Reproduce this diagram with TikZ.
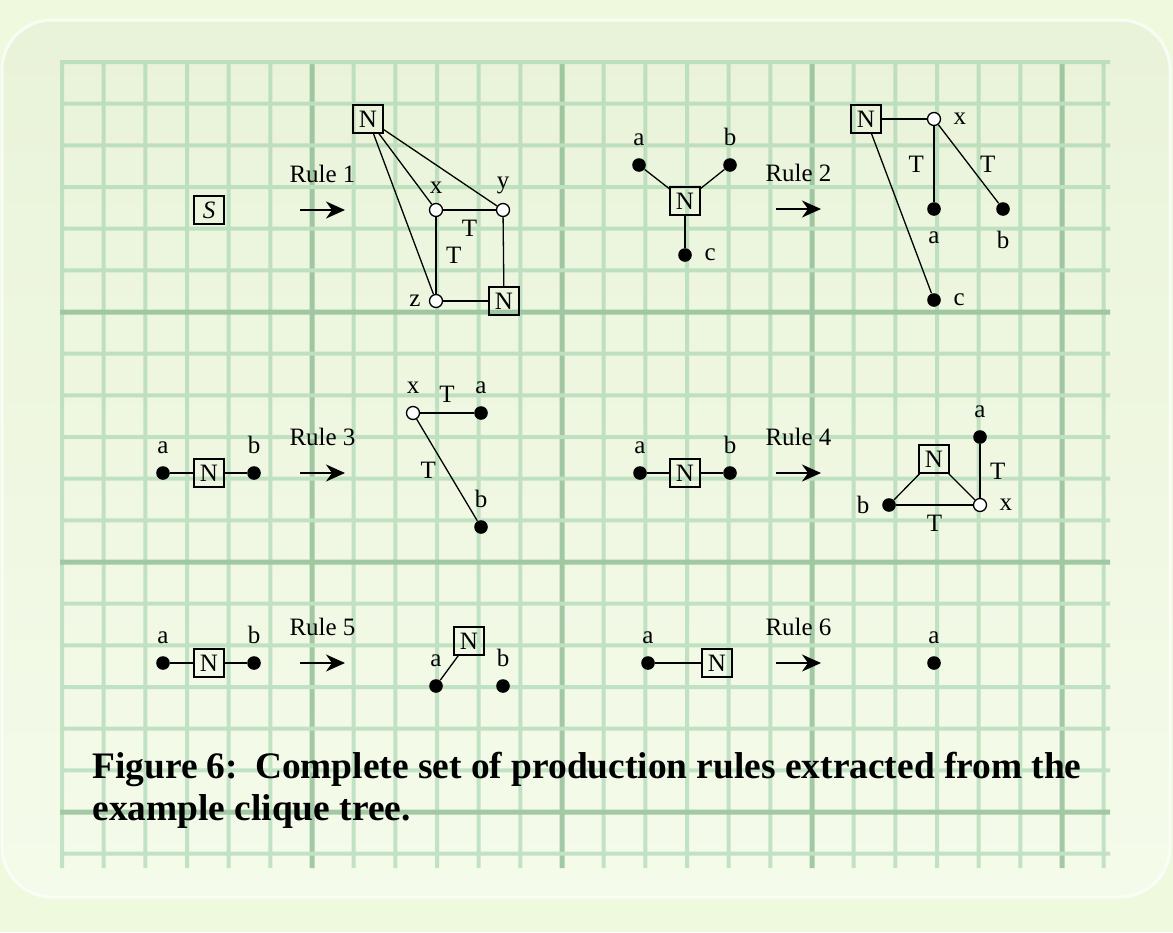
\documentclass[tikz,border=0pt]{standalone}
\usepackage{fontspec}
\setmainfont{Liberation Serif}
\usetikzlibrary{arrows.meta}
\definecolor{pagegreen}{RGB}{239,249,221}
\definecolor{paneltop}{RGB}{233,243,217}
\definecolor{panelmid}{RGB}{212,222,200}
\definecolor{panelbot}{RGB}{245,251,234}
\definecolor{gridminor}{RGB}{160,210,172}
\definecolor{gridmajor}{RGB}{108,168,120}

\begin{document}
\begin{tikzpicture}[x=0.5pt,y=-0.5pt,
    every node/.style={font=\fontsize{12.5pt}{15pt}\selectfont},
    nt/.style={draw,rectangle,line width=0.65pt,minimum width=15pt,minimum height=14pt,inner sep=0pt},
    tdot/.style={circle,fill,inner sep=0pt,minimum size=6.8pt},
    hollow/.style={circle,draw,line width=0.65pt,fill=white,inner sep=0pt,minimum size=6.5pt},
    every label/.style={inner sep=1pt},
    label distance=5pt,
    tl/.style={inner sep=1pt},
    link/.style={line width=0.65pt},
    rulearrow/.style={line width=0.7pt,-{Stealth[length=9.5pt,width=8.5pt,inset=3pt]}}]
  \useasboundingbox (0,0) rectangle (1173,932);
  % backdrop and panel
  \fill[pagegreen] (0,0) rectangle (1173,932);
  \shade[top color=paneltop,middle color=panelmid,bottom color=panelbot,rounded corners=25pt]
    (2,20) rectangle (1170,897);
  \draw[white,opacity=0.7,line width=1.5pt,rounded corners=25pt] (2,20) rectangle (1170,897);
  % grid
  \begin{scope}[transparency group,opacity=0.6]
    \foreach \k in {0,...,25} {
      \pgfmathsetmacro\gx{62+250*\k/6}
      \pgfmathtruncatemacro\ismaj{(mod(\k,6)==0)&&(\k>0)}
      \ifnum\ismaj=1
        \draw[gridmajor,line width=2.5pt] (\gx,60) -- (\gx,868);
      \else
        \draw[gridminor,line width=2pt] (\gx,60) -- (\gx,868);
      \fi
    }
    \foreach \k in {0,...,19} {
      \pgfmathsetmacro\gy{62+250*\k/6}
      \pgfmathtruncatemacro\ismaj{(mod(\k,6)==0)&&(\k>0)}
      \ifnum\ismaj=1
        \draw[gridmajor,line width=2.5pt] (60,\gy) -- (1110,\gy);
      \else
        \draw[gridminor,line width=2pt] (60,\gy) -- (1110,\gy);
      \fi
    }
  \end{scope}

  % rule 1
  \node[nt] (s) at (209,210) {\textit{S}};
  \coordinate (r1a) at (300,210);
  \coordinate (r1b) at (345,210);
  \draw[rulearrow] (r1a) -- node[above=13.5pt,inner sep=0pt] {Rule 1} (r1b);
  \node[nt] (n1) at (368,119) {N};
  \node[hollow,label={[label distance=3.5pt]above:x}] (x1) at (436,210) {};
  \node[hollow,label={[label distance=3.5pt]above:y}] (y1) at (503,210) {};
  \node[hollow,label={[label distance=3pt]left:z}] (z1) at (436,301) {};
  \node[nt] (n2) at (504,301) {N};
  \draw[link] (n1) -- (x1);
  \draw[link] (n1) -- (y1);
  \draw[link] (n1) -- (z1);
  \draw[link] (x1) -- node[tl,below=3.9pt] {T} (y1);
  \draw[link] (x1) -- node[tl,right=3.7pt] {T} (z1);
  \draw[link] (y1) -- (n2);
  \draw[link] (z1) -- (n2);

  % rule 2
  \node[tdot,label=above:a] (a2) at (639,165) {};
  \node[tdot,label=above:b] (b2) at (730,165) {};
  \node[nt] (n3) at (685,201) {N};
  \node[tdot,label=right:c] (c2) at (685,255) {};
  \draw[link] (a2) -- (n3);
  \draw[link] (b2) -- (n3);
  \draw[link] (n3) -- (c2);
  \coordinate (r2a) at (776,209);
  \coordinate (r2b) at (821,209);
  \draw[rulearrow] (r2a) -- node[above=13.5pt,inner sep=0pt] {Rule 2} (r2b);
  \node[nt] (n4) at (866,119) {N};
  \node[hollow,label=right:x] (x2) at (934,119) {};
  \node[tdot,label={[label distance=6.5pt]below:a}] (a3) at (934,209) {};
  \node[tdot,label={[label distance=6.5pt]below:b}] (b3) at (1003,209) {};
  \node[tdot,label=right:c] (c3) at (934,300) {};
  \draw[link] (n4) -- (x2);
  \draw[link] (x2) -- node[tl,left=3.7pt] {T} (a3);
  \draw[link] (x2) -- node[tl,right=4.5pt] {T} (b3);
  \draw[link] (n4) -- (c3);

  % rule 3
  \node[tdot,label=above:a] (a4) at (163,473) {};
  \node[nt] (n5) at (209,473) {N};
  \node[tdot,label=above:b] (b4) at (254,473) {};
  \draw[link] (a4) -- (n5);
  \draw[link] (n5) -- (b4);
  \coordinate (r3a) at (300,473);
  \coordinate (r3b) at (345,473);
  \draw[rulearrow] (r3a) -- node[above=13.5pt,inner sep=0pt] {Rule 3} (r3b);
  \node[hollow,label=above:x] (x3) at (413,413) {};
  \node[tdot,label=above:a] (a5) at (481,413) {};
  \node[tdot,label=above:b] (b5) at (481,527) {};
  \draw[link] (x3) -- node[tl,above=3.9pt] {T} (a5);
  \draw[link] (x3) -- node[tl,left=4.2pt] {T} (b5);

  % rule 4
  \node[tdot,label=above:a] (a6) at (640,473) {};
  \node[nt] (n6) at (685,473) {N};
  \node[tdot,label=above:b] (b6) at (730,473) {};
  \draw[link] (a6) -- (n6);
  \draw[link] (n6) -- (b6);
  \coordinate (r4a) at (776,473);
  \coordinate (r4b) at (821,473);
  \draw[rulearrow] (r4a) -- node[above=13.5pt,inner sep=0pt] {Rule 4} (r4b);
  \node[nt] (n7) at (934,459) {N};
  \node[tdot,label=above:a] (a7) at (980,437) {};
  \node[hollow,label=right:x] (x4) at (980,505) {};
  \node[tdot,label=left:b] (b7) at (889,505) {};
  \draw[link] (n7) -- (b7);
  \draw[link] (n7) -- (x4);
  \draw[link] (b7) -- node[tl,below=3.9pt] {T} (x4);
  \draw[link] (a7) -- node[tl,right=3.7pt] {T} (x4);

  % rule 5
  \node[tdot,label=above:a] (a8) at (163,663) {};
  \node[nt] (n8) at (209,663) {N};
  \node[tdot,label=above:b] (b8) at (254,663) {};
  \draw[link] (a8) -- (n8);
  \draw[link] (n8) -- (b8);
  \coordinate (r5a) at (300,663);
  \coordinate (r5b) at (345,663);
  \draw[rulearrow] (r5a) -- node[above=13.5pt,inner sep=0pt] {Rule 5} (r5b);
  \node[nt] (n9) at (469,641) {N};
  \node[tdot,label=above:a] (a9) at (436,686) {};
  \node[tdot,label=above:b] (b9) at (503,686) {};
  \draw[link] (n9) -- (a9);

  % rule 6
  \node[tdot,label=above:a] (a10) at (648,663) {};
  \node[nt] (n10) at (717,663) {N};
  \draw[link] (a10) -- (n10);
  \coordinate (r6a) at (776,663);
  \coordinate (r6b) at (821,663);
  \draw[rulearrow] (r6a) -- node[above=13.5pt,inner sep=0pt] {Rule 6} (r6b);
  \node[tdot,label=above:a] (a11) at (934,663) {};

  % caption (base anchor sits on the last line)
  \node[anchor=base west,inner sep=0pt,align=left,
        font=\fontsize{18.7pt}{21pt}\selectfont\bfseries] (cap) at (92,820)
    {Figure 6:\hspace{0.12em} Complete set of production rules extracted from the\\example clique tree.};
\end{tikzpicture}
\end{document}
